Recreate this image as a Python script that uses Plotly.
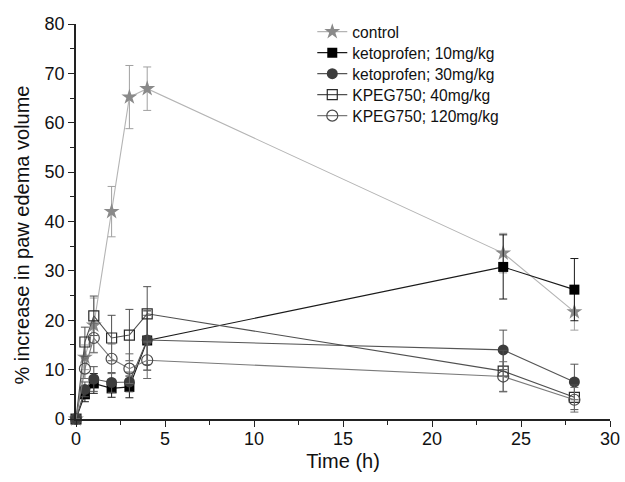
import plotly.graph_objects as go

time_h = [0, 0.5, 1, 2, 3, 4, 24, 28]

control = [0, 12.5, 19.0, 42.0, 65.2, 66.9, 33.6, 21.7]
control_err = [0, 2.5, 5.5, 5.1, 6.4, 4.4, 4.0, 3.7]

keto10 = [0, 5.0, 7.2, 6.2, 6.5, 15.9, 30.8, 26.2]
keto10_err = [0, 1.5, 2.0, 1.8, 2.2, 6.0, 6.5, 6.3]

keto30 = [0, 6.0, 8.1, 7.4, 7.5, 16.0, 14.0, 7.5]
keto30_err = [0, 1.5, 2.5, 2.0, 2.0, 5.0, 4.0, 3.6]

kpeg40 = [0, 15.6, 20.9, 16.4, 17.0, 21.3, 9.7, 4.4]
kpeg40_err = [0, 3.0, 4.0, 4.6, 5.2, 5.5, 4.2, 2.5]

kpeg120 = [0, 10.2, 16.4, 12.2, 10.2, 11.9, 8.6, 3.9]
kpeg120_err = [0, 2.0, 3.0, 3.0, 3.0, 3.7, 3.0, 2.5]

series_names = ["control", "ketoprofen; 10mg/kg", "ketoprofen; 30mg/kg",
                "KPEG750; 40mg/kg", "KPEG750; 120mg/kg"]

styles = [
    dict(y=control, e=control_err, line="#b4b4b4", ecol="#a0a0a0",
         marker=dict(symbol="star", size=12, color="#8a8a8a", line=dict(width=0))),
    dict(y=keto10, e=keto10_err, line="#1a1a1a", ecol="#1a1a1a",
         marker=dict(symbol="square", size=10, color="#000000", line=dict(width=0))),
    dict(y=keto30, e=keto30_err, line="#555555", ecol="#555555",
         marker=dict(symbol="circle", size=11, color="#3c3c3c", line=dict(width=0))),
    dict(y=kpeg40, e=kpeg40_err, line="#505050", ecol="#505050",
         marker=dict(symbol="square-open", size=10, color="#2a2a2a", line=dict(width=1.2))),
    dict(y=kpeg120, e=kpeg120_err, line="#7a7a7a", ecol="#6a6a6a",
         marker=dict(symbol="circle-open", size=11, color="#4a4a4a", line=dict(width=1.2))),
]

W, H = 625, 482
L, R, T, B = 75.5, 15, 24, 63
PW, PH = W - L - R, H - T - B

font_family = "Liberation Sans, Arial, sans-serif"

fig = go.Figure()
legend_rows = [32, 53, 74, 95, 116]  # pixel centres of legend entries
legend_names = ["legend", "legend2", "legend3", "legend4", "legend5"]
for i, (name, s) in enumerate(zip(series_names, styles)):
    fig.add_trace(go.Scatter(
        x=time_h, y=s["y"], name=name, mode="lines+markers",
        line=dict(color=s["line"], width=1.1),
        marker=s["marker"], cliponaxis=False,
        legend=legend_names[i],
        error_y=dict(type="data", array=s["e"], visible=True, color=s["ecol"],
                     thickness=1, width=4),
    ))

leg_x = (312 - L) / PW
legend_layout = {}
for ln, py in zip(legend_names, legend_rows):
    legend_layout[ln] = dict(
        x=leg_x, y=(H - B - py) / PH, xanchor="left", yanchor="middle",
        font=dict(size=15.6, family=font_family, color="#111111"),
        bgcolor="rgba(0,0,0,0)", borderwidth=0)

ytitle_x = (21 - L) / PW
ytitle_y = (H - B - 235) / PH

fig.update_layout(
    width=W, height=H,
    margin=dict(l=L, r=R, t=T, b=B, autoexpand=False),
    paper_bgcolor="white", plot_bgcolor="white",
    font=dict(family=font_family, color="#111111"),
    showlegend=True,
    **legend_layout,
    xaxis=dict(range=[0, 30], showgrid=False, zeroline=False, automargin=False,
               showline=True, linecolor="#222222", linewidth=1.5,
               ticks="outside", ticklen=6, tickwidth=1.3, tickcolor="#222222",
               tick0=0, dtick=5, tickfont=dict(size=18), ticklabelstandoff=-3,
               ticklabeloverflow="allow",
               minor=dict(ticks="outside", ticklen=4, tickwidth=1.3, tickcolor="#222222", dtick=2.5),
               title=dict(text="Time (h)", font=dict(size=20), standoff=6)),
    yaxis=dict(range=[0, 80], showgrid=False, zeroline=False, automargin=False,
               showline=True, linecolor="#222222", linewidth=1.5,
               ticks="outside", ticklen=6, tickwidth=1.3, tickcolor="#222222",
               tick0=0, dtick=10, tickfont=dict(size=18),
               minor=dict(ticks="outside", ticklen=4, tickwidth=1.3, tickcolor="#222222", dtick=5)),
    annotations=[dict(text="% increase in paw edema volume", textangle=-90,
                      xref="paper", yref="paper", x=ytitle_x, y=ytitle_y,
                      xanchor="center", yanchor="middle", showarrow=False,
                      font=dict(size=20, family=font_family, color="#111111"))],
)

fig.write_html("out.html", config={"displayModeBar": False},
               post_script="document.body.style.margin='0';document.body.style.overflow='hidden';")
